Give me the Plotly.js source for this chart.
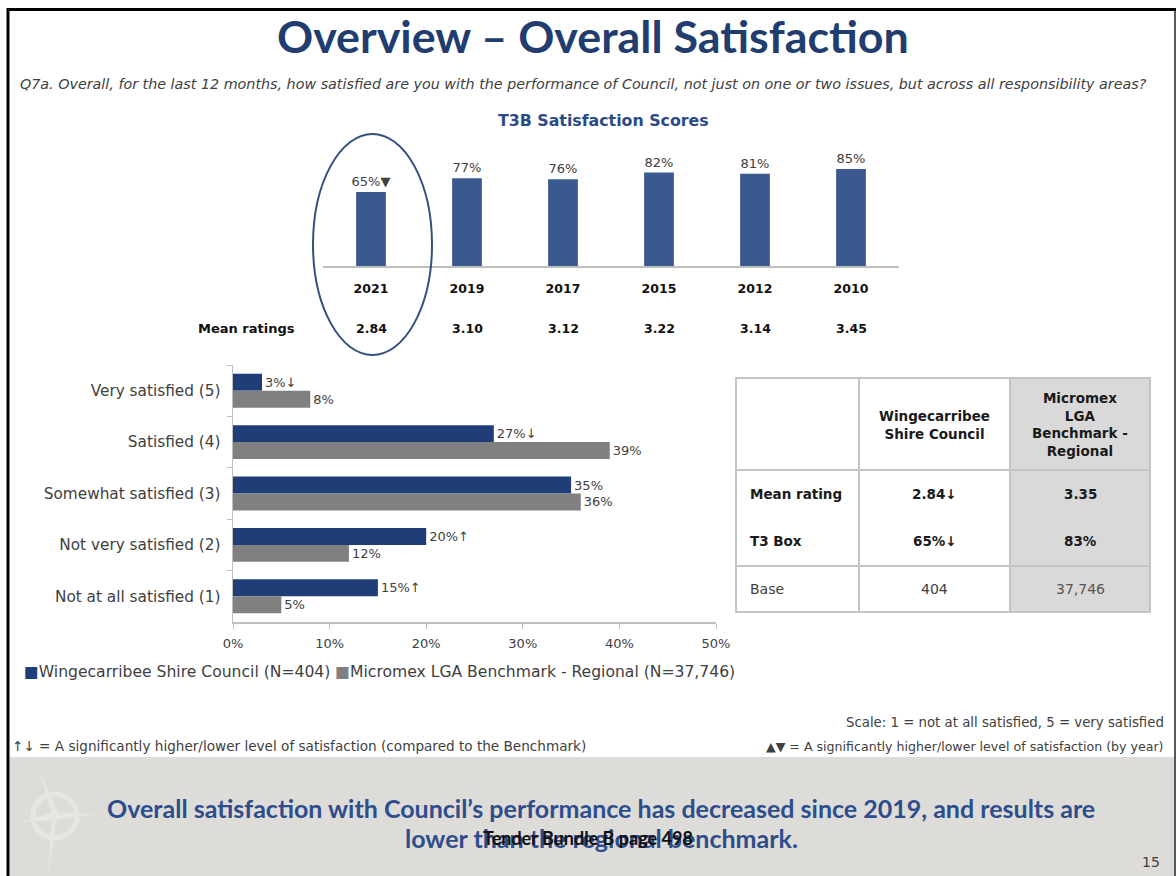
<!DOCTYPE html>
<html>
<head>
<meta charset="utf-8">
<script src="https://cdn.plot.ly/plotly-3.0.1.min.js"></script>
<style>
html,body{margin:0;padding:0;background:#fff;}
#chart{width:1176px;height:876px;}
</style>
</head>
<body>
<div id="chart"></div>
<script>
// ---------- DATA ----------
const years = ['2021', '2019', '2017', '2015', '2012', '2010'];
const t3bScores = [65, 77, 76, 82, 81, 85];
const t3bSig = ['▼', '', '', '', '', ''];
const meanRatings = ['2.84', '3.10', '3.12', '3.22', '3.14', '3.45'];

const levels = ['Very satisfied (5)', 'Satisfied (4)', 'Somewhat satisfied (3)', 'Not very satisfied (2)', 'Not at all satisfied (1)'];
const councilPct = [3, 27, 35, 20, 15];
const councilSig = ['↓', '↓', '', '↑', '↑'];
const benchmarkPct = [8, 39, 36, 12, 5];
const seriesNames = ['Wingecarribee Shire Council (N=404)', 'Micromex LGA Benchmark - Regional (N=37,746)'];
const xTicks = [0, 10, 20, 30, 40, 50];

const tableHeaders = ['Wingecarribee<br>Shire Council', 'Micromex<br>LGA<br>Benchmark -<br>Regional'];
const tableRowLabels = ['Mean rating', 'T3 Box', 'Base'];
const tableCouncil = ['2.84↓', '65%↓', '404'];
const tableBenchmark = ['3.35', '83%', '37,746'];

// ---------- STYLE / LAYOUT HELPERS ----------
const W = 1176, H = 876;
const px = x => x / W;
const py = y => 1 - y / H;
const BAR_TOP = '#3a5a8f';
const BAR_BLUE = '#1f3e78';
const BAR_GREY = '#808080';
const TXT = '#404040';
const FONT = '"DejaVu Sans", sans-serif';
const HEAD = 'Lato, "DejaVu Sans", sans-serif';

const traces = [
  {
    type: 'bar', x: years, y: t3bScores,
    text: t3bScores.map((v, i) => v + '%' + t3bSig[i]),
    textposition: 'outside', cliponaxis: false, constraintext: 'none',
    textfont: {family: FONT, size: 13, color: TXT},
    marker: {color: BAR_TOP}, width: 0.31,
    xaxis: 'x', yaxis: 'y', showlegend: false, hoverinfo: 'skip'
  },
  {
    type: 'bar', orientation: 'h', y: levels, x: councilPct, name: seriesNames[0],
    text: councilPct.map((v, i) => v + '%' + councilSig[i]),
    textposition: 'outside', cliponaxis: false, constraintext: 'none',
    textfont: {family: FONT, size: 13, color: TXT},
    marker: {color: BAR_BLUE}, xaxis: 'x2', yaxis: 'y2', showlegend: false, hoverinfo: 'skip'
  },
  {
    type: 'bar', orientation: 'h', y: levels, x: benchmarkPct, name: seriesNames[1],
    text: benchmarkPct.map(v => v + '%'),
    textposition: 'outside', cliponaxis: false, constraintext: 'none',
    textfont: {family: FONT, size: 13, color: TXT},
    marker: {color: BAR_GREY}, xaxis: 'x2', yaxis: 'y2', showlegend: false, hoverinfo: 'skip'
  }
];

const shapes = [];
const annotations = [];
const P = {xref: 'paper', yref: 'paper'};
const sh = o => shapes.push(Object.assign({}, P, o));

// slide frame
sh({type: 'line', x0: px(7), x1: px(1176), y0: py(9.5), y1: py(9.5), line: {color: '#000', width: 3}});
sh({type: 'line', x0: px(8), x1: px(8), y0: py(8), y1: py(876), line: {color: '#000', width: 3}});
sh({type: 'line', x0: px(1175), x1: px(1175), y0: py(10), y1: py(876), line: {color: '#222', width: 1.5}});
// footer band
sh({type: 'rect', x0: px(9.5), x1: px(1174), y0: py(757), y1: py(876), fillcolor: '#dddcd8', line: {width: 0}, layer: 'below'});
// faint compass in footer
sh({type: 'circle', x0: px(33), x1: px(77), y0: py(838), y1: py(794), line: {color: '#e7e6e3', width: 5}, layer: 'below'});
sh({type: 'path', path: 'M ' + px(40) + ' ' + py(772) + ' L ' + px(58) + ' ' + py(812) + ' L ' + px(48) + ' ' + py(876) + ' L ' + px(52) + ' ' + py(816) + ' Z', fillcolor: '#e7e6e3', line: {width: 0}, layer: 'below'});
sh({type: 'path', path: 'M ' + px(20) + ' ' + py(822) + ' L ' + px(55) + ' ' + py(812) + ' L ' + px(96) + ' ' + py(814) + ' L ' + px(55) + ' ' + py(820) + ' Z', fillcolor: '#e7e6e3', line: {width: 0}, layer: 'below'});

// ellipse around 2021
sh({type: 'circle', x0: px(313), x1: px(432), y0: py(355), y1: py(134), line: {color: '#34507e', width: 2}});

// table
const tX = [736, 859, 1010, 1150], tY = [378, 470, 566, 612];
sh({type: 'rect', x0: px(tX[2]), x1: px(tX[3]), y0: py(tY[0]), y1: py(tY[3]), fillcolor: '#d9d9d9', line: {width: 0}, layer: 'below'});
sh({type: 'rect', x0: px(tX[0]), x1: px(tX[3]), y0: py(tY[0]), y1: py(tY[3]), line: {color: '#c4c4c4', width: 2}});
[tX[1], tX[2]].forEach(x => sh({type: 'line', x0: px(x), x1: px(x), y0: py(tY[0]), y1: py(tY[3]), line: {color: '#c4c4c4', width: 2}}));
[tY[1], tY[2]].forEach(y => sh({type: 'line', x0: px(tX[0]), x1: px(tX[3]), y0: py(y), y1: py(y), line: {color: '#c4c4c4', width: 2}}));

const ann = (x, y, text, opts) => annotations.push(Object.assign({xref: 'paper', yref: 'paper', x: px(x), y: py(y), text: text, showarrow: false, xanchor: 'center', yanchor: 'middle', font: {family: FONT, size: 13, color: TXT}}, opts || {}));

const colC = [(tX[1] + tX[2]) / 2, (tX[2] + tX[3]) / 2];
ann(colC[0], 425, '<b>' + tableHeaders[0] + '</b>', {font: {family: FONT, size: 13.5, color: '#1a1a1a'}});
ann(colC[1], 424, '<b>' + tableHeaders[1] + '</b>', {font: {family: FONT, size: 13.5, color: '#1a1a1a'}});
const rowY = [494, 541, 589];
tableRowLabels.forEach((lab, i) => {
  const bold = i < 2;
  const f = {family: FONT, size: bold ? 13.5 : 14, color: bold ? '#1a1a1a' : '#404040'};
  ann(748, rowY[i], bold ? '<b>' + lab + '</b>' : lab, {xanchor: 'left', font: f});
  ann(colC[0], rowY[i], bold ? '<b>' + tableCouncil[i] + '</b>' : tableCouncil[i], {font: f});
  ann(colC[1], rowY[i], bold ? '<b>' + tableBenchmark[i] + '</b>' : tableBenchmark[i], {font: Object.assign({}, f, {color: bold ? '#1a1a1a' : '#555'})});
});

// titles & texts
ann(593, 36, '<b>Overview – Overall Satisfaction</b>', {font: {family: HEAD, size: 44.8, color: '#213d70'}});
ann(18, 84, '<i>Q7a. Overall, for the last 12 months, how satisfied are you with the performance of Council, not just on one or two issues, but across all responsibility areas?</i>', {xanchor: 'left', font: {family: FONT, size: 14.3, color: '#404040'}});
ann(603, 120, '<b>T3B Satisfaction Scores</b>', {font: {family: FONT, size: 15.8, color: '#2b4a86'}});

// mean ratings row
ann(297, 328, '<b>Mean ratings</b>', {xanchor: 'right', font: {family: FONT, size: 13, color: '#111'}});
years.forEach((yr, i) => annotations.push({xref: 'x', yref: 'paper', x: i, y: py(328), text: '<b>' + meanRatings[i] + '</b>', showarrow: false, xanchor: 'center', yanchor: 'middle', font: {family: FONT, size: 12.5, color: '#111'}}));

// legend (manual)
ann(22, 672, '<span style="color:' + BAR_BLUE + '">■</span>' + seriesNames[0] + ' <span style="color:' + BAR_GREY + '">■</span>' + seriesNames[1], {xanchor: 'left', font: {family: FONT, size: 15.6, color: TXT}});

// footnotes
ann(1166, 722, 'Scale: 1 = not at all satisfied, 5 = very satisfied', {xanchor: 'right', font: {family: FONT, size: 13.3, color: TXT}});
ann(10, 746, '↑↓ = A significantly higher/lower level of satisfaction (compared to the Benchmark)', {xanchor: 'left', font: {family: FONT, size: 13.6, color: TXT}});
ann(1166, 746, '▲▼ = A significantly higher/lower level of satisfaction (by year)', {xanchor: 'right', font: {family: FONT, size: 12.6, color: TXT}});

// footer message
ann(601, 808, '<b>Overall satisfaction with Council’s performance has decreased since 2019, and results are</b>', {font: {family: HEAD, size: 25, color: '#2e4d8c'}});
ann(601, 838, '<b>lower than the regional benchmark.</b>', {font: {family: HEAD, size: 25, color: '#2e4d8c'}});
ann(588, 838, '<b>Tender Bundle B page 498</b>', {font: {family: HEAD, size: 18, color: '#111'}});
ann(1162, 862, '15', {xanchor: 'right', font: {family: FONT, size: 14, color: TXT}});

const layout = {
  width: W, height: H,
  margin: {l: 0, r: 0, t: 0, b: 0},
  paper_bgcolor: '#ffffff', plot_bgcolor: 'rgba(0,0,0,0)',
  barmode: 'group', bargap: 0.34, bargroupgap: 0,
  showlegend: false,
  xaxis: {
    domain: [px(323), px(899)], type: 'category', categoryorder: 'array', categoryarray: years,
    range: [-0.5, 5.5],
    showline: true, linecolor: '#bfbfbf', linewidth: 1.5, ticks: '', showgrid: false, zeroline: false,
    tickfont: {family: FONT, size: 12.5, color: '#111', weight: 'bold'}, ticklabelstandoff: 10, fixedrange: true
  },
  yaxis: {
    domain: [py(266), py(152)], range: [0, 100], visible: false, fixedrange: true
  },
  xaxis2: {
    domain: [px(233), px(716)], range: [0, 50], anchor: 'y2',
    tickvals: xTicks, ticktext: xTicks.map(v => v + '%'),
    showline: true, linecolor: '#bfbfbf', linewidth: 1.5, ticks: 'outside', ticklen: 5, tickcolor: '#bfbfbf',
    showgrid: false, zeroline: false, tickfont: {family: FONT, size: 13, color: TXT}, ticklabelstandoff: 4, fixedrange: true
  },
  yaxis2: {
    domain: [py(622), py(365)], anchor: 'x2', type: 'category', categoryorder: 'array', categoryarray: levels,
    autorange: 'reversed', showline: true, linecolor: '#bfbfbf', linewidth: 1.5,
    ticks: 'outside', tickson: 'boundaries', ticklen: 5, tickcolor: '#bfbfbf',
    tickfont: {family: FONT, size: 15.3, color: TXT}, ticklabelstandoff: 8, showgrid: false, fixedrange: true
  },
  shapes: shapes,
  annotations: annotations
};

Plotly.newPlot('chart', traces, layout, {displayModeBar: false, staticPlot: true});
</script>
</body>
</html>
